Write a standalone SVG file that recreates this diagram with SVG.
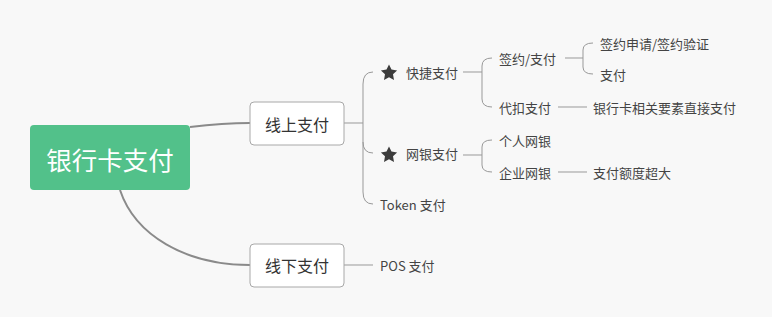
<svg xmlns="http://www.w3.org/2000/svg" width="772" height="317" viewBox="0 0 772 317">
<defs>
<style>
.t{font-family:"Noto Sans CJK SC","Noto Sans",sans-serif;fill:#444;font-size:13px;dominant-baseline:central}
.b{fill:#fff;stroke:#a8a8a8;stroke-width:1}
.m{font-family:"Noto Sans CJK SC","Noto Sans",sans-serif;fill:#333;font-size:16px;dominant-baseline:central;text-anchor:middle}
.c{fill:none;stroke:#8a8a8a;stroke-width:2}
.k{fill:none;stroke:#999;stroke-width:1}
.s{fill:#3c3c3c}
</style>
<path id="star" d="M0,-8.5 L2.5,-3.4 L8.1,-2.6 L4,1.3 L5,7 L0,4.3 L-5,7 L-4,1.3 L-8.1,-2.6 L-2.5,-3.4 Z"/>
</defs>
<rect width="772" height="317" fill="#f8f8f8"/>
<g id="connectors">
<path class="c" d="M190,127 C215,124 230,123 250,123"/>
<path class="c" d="M120,190 C135,235 185,265 250,265"/>
<path class="k" d="M344,123 H363"/>
<path class="k" d="M373,72 Q363,72 363,84 L363,192 Q363,204 373,204"/>
<path class="k" d="M363,142 Q363,153 373,153"/>
<path class="k" d="M344,265 H373"/>
<path class="k" d="M463,72 H482"/>
<path class="k" d="M492,58 Q482,58 482,66 L482,99 Q482,107 492,107"/>
<path class="k" d="M565,58 H583"/>
<path class="k" d="M593,43 Q583,43 583,50 L583,67 Q583,74 593,74"/>
<path class="k" d="M558,107 H587"/>
<path class="k" d="M463,155 H482"/>
<path class="k" d="M492,140 Q482,140 482,147 L482,165 Q482,172 492,172"/>
<path class="k" d="M558,172 H587"/>
</g>
<g id="root">
<rect x="30" y="125" width="160" height="65" rx="4" fill="#52c18a"/>
<text x="110" y="158" font-family="Noto Sans CJK SC, Noto Sans, sans-serif" font-size="25.5" fill="#fff" text-anchor="middle" dominant-baseline="central">银行卡支付</text>
</g>
<g id="online">
<rect class="b" x="250" y="102" width="94" height="43" rx="4"/>
<text class="m" x="297" y="124">线上支付</text>
</g>
<g id="offline">
<rect class="b" x="250" y="244" width="94" height="43" rx="4"/>
<text class="m" x="297" y="265">线下支付</text>
</g>
<g id="quick">
<use href="#star" class="s" x="389" y="73"/>
<text class="t" x="406" y="72">快捷支付</text>
</g>
<g id="sign">
<text class="t" x="499" y="58">签约/支付</text>
</g>
<g id="sign-apply">
<text class="t" x="600" y="43">签约申请/签约验证</text>
</g>
<g id="sign-pay">
<text class="t" x="600" y="74">支付</text>
</g>
<g id="deduct">
<text class="t" x="499" y="107">代扣支付</text>
</g>
<g id="deduct-note">
<text class="t" x="593" y="107">银行卡相关要素直接支付</text>
</g>
<g id="netbank">
<use href="#star" class="s" x="389" y="155"/>
<text class="t" x="406" y="153">网银支付</text>
</g>
<g id="personal">
<text class="t" x="499" y="140">个人网银</text>
</g>
<g id="enterprise">
<text class="t" x="499" y="172">企业网银</text>
</g>
<g id="enterprise-note">
<text class="t" x="593" y="172">支付额度超大</text>
</g>
<g id="token">
<text class="t" x="380" y="204">Token 支付</text>
</g>
<g id="pos">
<text class="t" x="380" y="265">POS 支付</text>
</g>
</svg>
